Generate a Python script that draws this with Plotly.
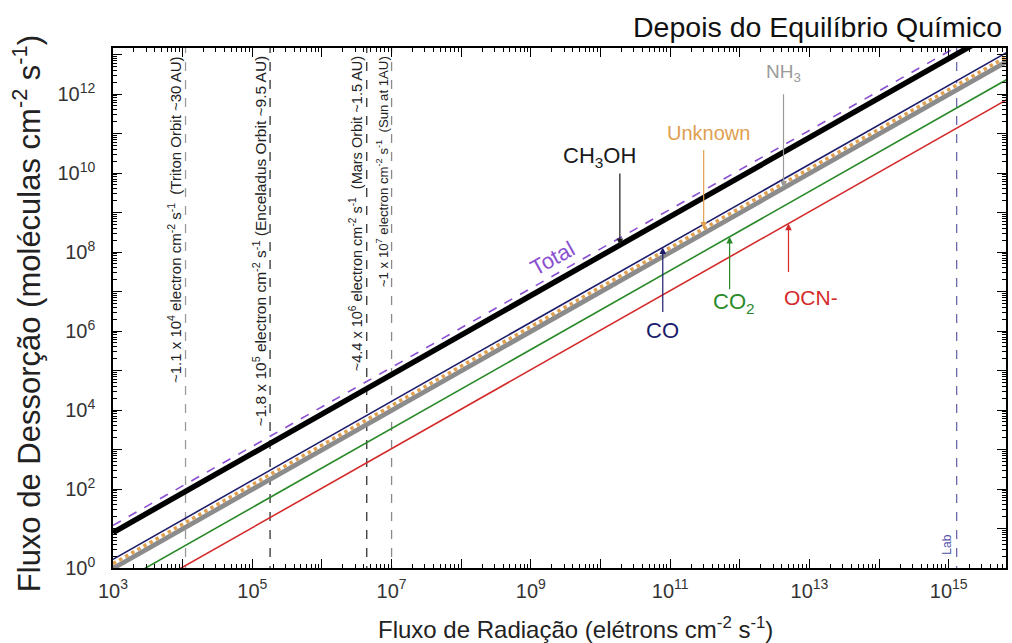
import numpy as np
import plotly.graph_objects as go

# ---- data ----
flux_x = [1e3, 1e16]                      # radiation flux endpoints (electrons cm-2 s-1)
total_y = [12.0, 1.2e14]
ch3oh_y = [7.9, 7.9e13]
co_y = [1.66, 1.66e13]
unknown_y = [1.29, 1.29e13]
nh3_y = [1.0, 1.0e13]
co2_y = [0.34, 3.4e12]
ocn_y = [0.105, 1.05e12]

orbit_flux = [1.1e4, 1.8e5, 4.4e6, 1e7]
orbit_labels = [
    "~1.1 x 10<sup>4</sup> electron cm<sup>-2</sup> s<sup>-1</sup>  (Triton Orbit ~30 AU)",
    "~1.8 x 10<sup>5</sup> electron cm<sup>-2</sup> s<sup>-1</sup> (Enceladus Orbit ~9.5 AU)",
    "~4.4 x 10<sup>6</sup> electron cm<sup>-2</sup> s<sup>-1</sup>  (Mars Orbit ~1.5 AU)",
    "~1 x 10<sup>7</sup> electron cm<sup>-2</sup> s<sup>-1</sup>  (Sun at 1AU)",
]
lab_flux = 1.3e15

x_tickvals = [10.0 ** k for k in range(3, 16)]
x_ticktext = ["10<sup>%d</sup>" % k if k % 2 == 1 else "" for k in range(3, 16)]
y_tickvals = [10.0 ** k for k in range(0, 14)]
y_ticktext = ["10<sup>%d</sup>" % k if k % 2 == 0 else "" for k in range(0, 14)]

# ---- geometry helpers ----
L, R, T, B = 113, 4, 48, 75
W, H = 1012, 643
XR = [3, 3 + (W - R - L) / 69.8]
YR = [0, (H - B - T) / 39.5]
FONT = "Liberation Sans, Arial, sans-serif"


def px2lx(px):
    return XR[0] + (px - L) / (W - R - L) * (XR[1] - XR[0])


def py2ly(py):
    return YR[0] + (H - B - py) / (H - B - T) * (YR[1] - YR[0])


def line_at(ys, lx):
    lx0, lx1 = np.log10(flux_x)
    ly0, ly1 = np.log10(ys)
    return ly0 + (lx - lx0) / (lx1 - lx0) * (ly1 - ly0)


fig = go.Figure()

# vertical reference lines
vcolors = ["#9a9a9a", "#333333", "#333333", "#8a8a8a"]
for v, c in zip(orbit_flux, vcolors):
    fig.add_trace(go.Scatter(x=[v, v], y=[1e-2, 1e15], mode="lines",
                             line=dict(color=c, width=1.3, dash="dash"),
                             showlegend=False, hoverinfo="skip"))
fig.add_trace(go.Scatter(x=[lab_flux, lab_flux], y=[1e-2, 1e15], mode="lines",
                         line=dict(color="#6a6aaa", width=1.3, dash="dash"),
                         showlegend=False, hoverinfo="skip"))

# series
fig.add_trace(go.Scatter(x=flux_x, y=ocn_y, mode="lines", line=dict(color="#d42a2a", width=1.6), name="OCN-"))
fig.add_trace(go.Scatter(x=flux_x, y=co2_y, mode="lines", line=dict(color="#2a8a2a", width=1.6), name="CO2"))
fig.add_trace(go.Scatter(x=flux_x, y=nh3_y, mode="lines", line=dict(color="#8c8c8c", width=5.5), name="NH3"))
fig.add_trace(go.Scatter(x=flux_x, y=unknown_y, mode="lines", line=dict(color="#ffffff", width=3.5), showlegend=False))
fig.add_trace(go.Scatter(x=flux_x, y=unknown_y, mode="lines", line=dict(color="#e0a050", width=3.5, dash="dot"), name="Unknown"))
fig.add_trace(go.Scatter(x=flux_x, y=co_y, mode="lines", line=dict(color="#1c1c6c", width=1.6), name="CO"))
fig.add_trace(go.Scatter(x=flux_x, y=ch3oh_y, mode="lines", line=dict(color="#000000", width=5.5), name="CH3OH"))
fig.add_trace(go.Scatter(x=flux_x, y=total_y, mode="lines", line=dict(color="#8a50d0", width=1.6, dash="dash"), name="Total"))
# invisible trace to carry the top axis
fig.add_trace(go.Scatter(x=flux_x, y=total_y, xaxis="x2", mode="lines", line=dict(width=0),
                         opacity=0, showlegend=False, hoverinfo="skip"))

minor_x = [m * 10.0 ** k for k in range(3, 16) for m in range(2, 10)]
minor_y = [m * 10.0 ** k for k in range(0, 14) for m in range(2, 10)]

axis_common = dict(showline=True, linecolor="black", linewidth=1.5,
                   ticks="inside", ticklen=9, tickwidth=1.3, tickcolor="black",
                   showgrid=False, zeroline=False,
                   tickfont=dict(family=FONT, size=20, color="#333333"))
minor_x_d = dict(tickmode="array", tickvals=minor_x, ticks="inside", ticklen=4,
                 tickwidth=1, tickcolor="black", showgrid=False)

fig.update_layout(
    xaxis=dict(type="log", range=XR, tickmode="array", tickvals=x_tickvals, ticktext=x_ticktext,
               minor=minor_x_d, ticklabelstandoff=4, mirror=False, **axis_common),
    xaxis2=dict(type="log", range=XR, overlaying="x", side="top", tickmode="array",
                tickvals=x_tickvals, showticklabels=False, minor=minor_x_d,
                **axis_common),
    yaxis=dict(type="log", range=YR, tickmode="array", tickvals=y_tickvals, ticktext=y_ticktext,
               minor=dict(tickmode="array", tickvals=minor_y, ticks="inside", ticklen=4,
                          tickwidth=1, tickcolor="black", showgrid=False),
               ticklabelstandoff=12, mirror="ticks", **axis_common),
)

ann = []
# axis titles
ann.append(dict(x=(577 - L) / (W - R - L), y=-(628 - (H - B)) / (H - B - T), xref="paper", yref="paper",
                text="Fluxo de Radiação (elétrons cm<sup>-2</sup> s<sup>-1</sup>)", showarrow=False,
                xanchor="center", yanchor="middle",
                font=dict(family=FONT, size=24, color="#222222")))
ann.append(dict(x=-(L - 27) / (W - R - L), y=((H - B) - 314) / (H - B - T), xref="paper", yref="paper",
                text="Fluxo de Dessorção (moléculas cm<sup>-2</sup> s<sup>-1</sup>)", showarrow=False,
                textangle=-90, xanchor="center", yanchor="middle",
                font=dict(family=FONT, size=31, color="#222222")))

# orbit labels (vertical)
osizes = [15, 15.5, 14.5, 13.2]
for v, txt, s in zip(orbit_flux, orbit_labels, osizes):
    ann.append(dict(x=np.log10(v), y=py2ly(54), xref="x", yref="y", text=txt, textangle=-90,
                    showarrow=False, xanchor="center", yanchor="top", xshift=-11 if s > 14 else -9,
                    font=dict(family=FONT, size=s, color="#222222")))
ann.append(dict(x=np.log10(lab_flux), y=py2ly(545), xref="x", yref="y", text="Lab", textangle=-90,
                showarrow=False, xshift=-10,
                font=dict(family=FONT, size=12, color="#5050a8")))

# Total label
ann.append(dict(x=px2lx(553), y=py2ly(258), xref="x", yref="y", text="Total", textangle=-29,
                showarrow=False, font=dict(family=FONT, size=22, color="#8a50d0")))

# arrows + labels: (series, arrow px, tail offset, label text, label px, label py, color, size)
specs = [
    (ch3oh_y, 621, -73, "CH<sub>3</sub>OH", 601, 157, "#1a1a1a", 22),
    (unknown_y, 705, -80, "Unknown", 710, 133, "#e0a050", 20),
    (nh3_y, 785, -95, "NH<sub>3</sub>", 785, 73, "#9a9a9a", 19),
    (co_y, 664, 66, "CO", 664, 330, "#1c1c6c", 22),
    (co2_y, 731, 54, "CO<sub>2</sub>", 735, 303, "#2a8a2a", 22),
    (ocn_y, 790, 50, "OCN-", 813, 297, "#d42a2a", 21),
]
for ys, apx, aoff, txt, tx, ty, col, fs in specs:
    lx = px2lx(apx)
    ann.append(dict(x=lx, y=line_at(ys, lx), xref="x", yref="y", text="", showarrow=True,
                    ax=0, ay=aoff, arrowhead=2, arrowsize=1.1, arrowwidth=1.2, arrowcolor=col,
                    standoff=0))
    ann.append(dict(x=px2lx(tx), y=py2ly(ty), xref="x", yref="y", text=txt, showarrow=False,
                    font=dict(family=FONT, size=fs, color=col)))

# title
ann.append(dict(x=1, y=1.04, xref="paper", yref="paper", text="Depois do Equilíbrio Químico",
                showarrow=False, xanchor="right", yanchor="middle", xshift=-2,
                font=dict(family=FONT, size=28.5, color="#111111")))

fig.update_layout(width=W, height=H, margin=dict(l=L, r=R, t=T, b=B),
                  paper_bgcolor="white", plot_bgcolor="white", showlegend=False,
                  annotations=ann)

fig.write_html("out.html")
